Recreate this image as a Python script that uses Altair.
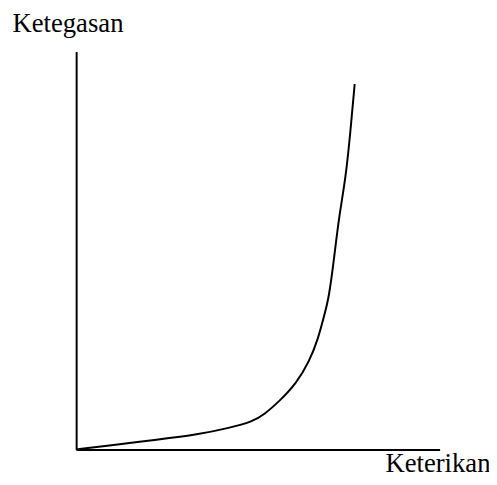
import altair as alt
import pandas as pd

# Strain (Keterikan) vs stiffness (Ketegasan) curve
keterikan = [0, 33, 83, 123, 156, 178, 190, 206, 223, 236, 245, 251, 256, 261, 266, 273, 278, 282]
ketegasan = [0, 4, 10, 15, 22, 28, 35, 49, 67, 89, 112, 135, 154, 192, 235, 275, 325, 370]

df = pd.DataFrame({"x": keterikan, "y": ketegasan})

FONT = "Liberation Serif"

chart = alt.Chart(df).mark_line(
    color="black", strokeWidth=2, interpolate="basis"
).encode(
    x=alt.X("x:Q", scale=alt.Scale(domain=[0, 368], nice=False, zero=True),
            axis=alt.Axis(title="Keterikan", labels=False, ticks=False, grid=False,
                          domainColor="black", domainWidth=2,
                          titleFont=FONT, titleFontSize=27, titleFontWeight="normal",
                          titleColor="black", titleAlign="right", titleBaseline="alphabetic",
                          titleX=419, titleY=22, titleAngle=0)),
    y=alt.Y("y:Q", scale=alt.Scale(domain=[0, 403], nice=False, zero=True),
            axis=alt.Axis(title="Ketegasan", labels=False, ticks=False, grid=False,
                          domainColor="black", domainWidth=2,
                          titleFont=FONT, titleFontSize=27, titleFontWeight="normal",
                          titleColor="black", titleAlign="left", titleBaseline="alphabetic",
                          titleX=-65, titleY=-20, titleAngle=0)),
).properties(
    width=368, height=403,
    autosize=alt.AutoSizeParams(type="none"),
    padding={"left": 69, "top": 41, "right": 50, "bottom": 30},
).configure(background="white").configure_view(strokeWidth=0, stroke=None)

chart.save("out.html", embed_options={"renderer": "svg", "actions": False})
